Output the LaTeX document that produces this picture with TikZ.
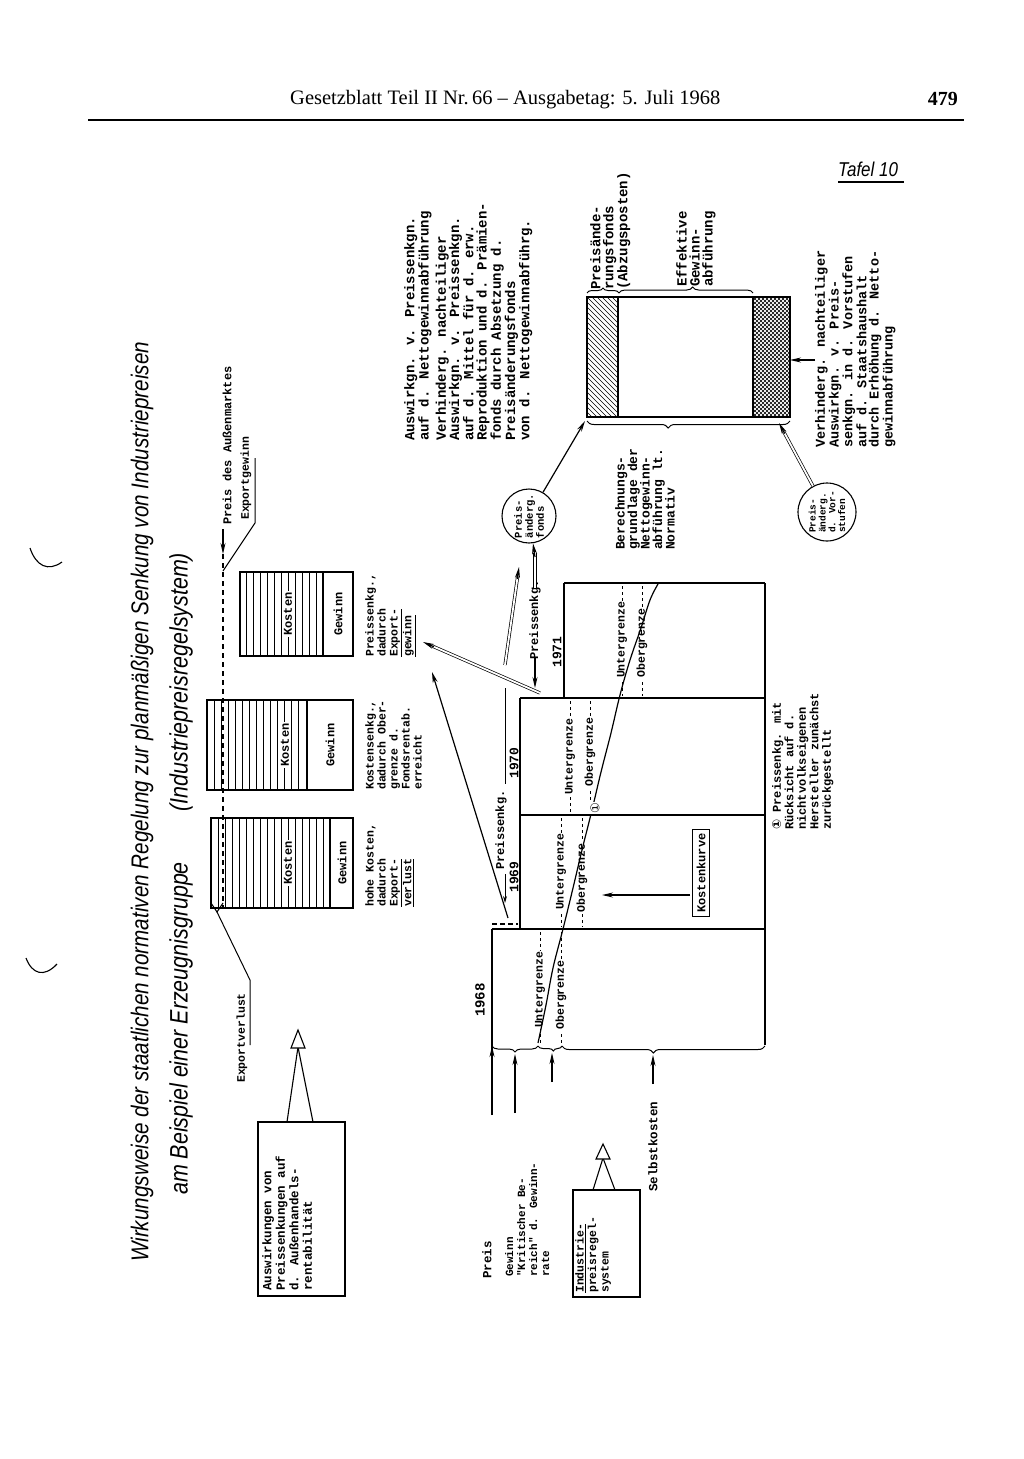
\documentclass[tikz,border=0pt]{standalone}
\usepackage{graphicx}
\usepackage{fontspec}
\setmainfont{Liberation Serif}
\newfontfamily\twfam{Liberation Mono}
\newfontfamily\handfam{Liberation Sans}[FakeStretch=0.85]
\newfontfamily\symfam{DejaVu Sans}
\usetikzlibrary{arrows.meta,decorations.pathreplacing,calc}
\newcommand\twf[2]{\twfam\bfseries\fontsize{#1}{#2}\selectfont}
\begin{document}
\begin{tikzpicture}[x=1pt,y=-1pt,
  ln/.style={line width=1.1pt},
  rt/.style={rotate=90,inner sep=0pt,align=left,anchor=north west},
  rc/.style={rotate=90,inner sep=0pt,align=center},
  arr/.style={line width=1.2pt,-{Stealth[length=11pt,width=5pt]}},
  dbl/.style={double,double distance=1.8pt,line width=0.7pt},
  brc/.style={decorate,decoration={brace,amplitude=6pt},line width=1pt},
  dsh/.style={line width=1pt,dash pattern=on 3pt off 3pt},
  lbl/.style={rc,fill=white,inner sep=1.5pt},
]
\useasboundingbox (0,0) rectangle (1024,1459);
\fill[white] (0,0) rectangle (1024,1459);

% scan marks
\draw[line width=1.1pt] (30,548) .. controls (36,566) and (48,572) .. (62,562);
\draw[line width=1.1pt] (26,958) .. controls (32,974) and (44,978) .. (57,964);

% header
\node[anchor=base west,inner sep=0,font=\fontsize{20.5}{22}\selectfont] (hdr) at (290,104) {Gesetzblatt Teil II Nr.\,66 -- Ausgabetag: 5. Juli 1968};
\node[anchor=base east,inner sep=0,font=\bfseries\fontsize{20}{22}\selectfont] (pg) at (958,105) {479};
\draw[line width=1.8pt] (88,120) -- (964,120);
\node[anchor=base west,inner sep=0,font=\handfam\itshape\fontsize{20}{22}\selectfont] (tafel) at (838,176) {Tafel 10};
\draw[line width=1.2pt] (838,182) -- (904,182);

% title
\node[rotate=90,anchor=west,inner sep=0] (title1) at (142,1262) {\resizebox{920pt}{!}{\handfam\itshape Wirkungsweise der staatlichen normativen Regelung zur planmäßigen Senkung von Industriepreisen}};
\node[rotate=90,anchor=west,inner sep=0] (title2) at (181,1195) {\resizebox{642pt}{!}{\handfam\itshape am Beispiel einer Erzeugnisgruppe\quad\quad (Industriepreisregelsystem)}};

% ---------- bars ----------
% bar 1
\foreach \x in {218,225,...,326} \draw[line width=0.8pt] (\x,818) -- (\x,908);
\draw[ln] (211,818) rectangle (353,908);
\draw[ln] (330,818) -- (330,908);
\node[lbl,font=\twf{12}{12}] (k1) at (288,863) {Kosten};
\node[rc,font=\twf{12}{12}] (g1) at (342,863) {Gewinn};
% bar 2
\foreach \x in {214,221,...,303} \draw[line width=0.8pt] (\x,700) -- (\x,790);
\draw[ln] (207,700) rectangle (353,790);
\draw[ln] (307,700) -- (307,790);
\node[lbl,font=\twf{12}{12}] (k2) at (285,745) {Kosten};
\node[rc,font=\twf{12}{12}] (g2) at (330,745) {Gewinn};
% bar 3
\foreach \x in {246,253,...,320} \draw[line width=0.8pt] (\x,572) -- (\x,656);
\draw[ln] (240,572) rectangle (353,656);
\draw[ln] (323,572) -- (323,656);
\node[lbl,font=\twf{12}{12}] (k3) at (288,614) {Kosten};
\node[rc,font=\twf{12}{12}] (g3) at (338,614) {Gewinn};

% price of foreign market
\node[rc,anchor=west,font=\twf{12}{12}] (pam) at (227,525) {Preis des Außenmarktes};
\coordinate (pamA) at (223,529);
\coordinate (pamB) at (223,554);
\coordinate (pamC) at (223,908);
\draw[arr] (pamA) -- (pamB);
\draw[dsh,line width=1.2pt,dash pattern=on 5pt off 4pt] (pamB) -- (pamC);

% Exportgewinn / Exportverlust
\node[rc,anchor=west,font=\twf{11.5}{12}] (eg) at (246,520) {Exportgewinn};
\coordinate (egA) at (223,571);
\coordinate (egB) at (255,523);
\coordinate (egC) at (255,458);
\draw[line width=1pt] (egA) -- (egB) -- (egC);
\node[rc,anchor=west,font=\twf{11.5}{12}] (ev) at (242,1083) {Exportverlust};
\coordinate (evA) at (217,912);
\coordinate (evB) at (250,980);
\coordinate (evC) at (250,1045);
\draw[line width=1pt] (211,903) -- (evA) -- (223,903);
\draw[line width=1pt] (evA) -- (evB) -- (evC);

% texts under bars
\node[rt,font=\twf{11.5}{12}] (tb1) at (365,907) {hohe Kosten,\\dadurch\\\underline{Export-}\\\underline{verlust}};
\node[rt,font=\twf{11.5}{12}] (tb2) at (365,790) {Kostensenkg.,\\dadurch Ober-\\grenze d.\\Fondsrentab.\\erreicht};
\node[rt,font=\twf{11.5}{12}] (tb3) at (365,657) {Preissenkg.,\\dadurch\\\underline{Export-}\\\underline{gewinn}};

% lower left boxes
\node[draw,ln,rotate=90,minimum width=174pt,minimum height=87pt,inner sep=0] (bx1) at (301.5,1209) {};
\node[rt,font=\twf{12.5}{13.5}] (bx1t) at (262,1291) {Auswirkungen von\\Preissenkungen auf\\d. Außenhandels-\\rentabilität};
\coordinate (tri1) at (298,1047);
\draw[ln] (287,1122) -- (tri1) -- (313,1122);
\draw[ln,fill=white] (298,1030) -- (291,1048) -- (305,1048) -- cycle;

\node[draw,ln,rotate=90,minimum width=107pt,minimum height=67pt,inner sep=0] (bx2) at (606.5,1243.5) {};
\node[rt,font=\twf{11.5}{12.5}] (bx2t) at (575,1293) {\underline{Industrie-}\\preisregel-\\system};
\coordinate (tri2) at (603,1158);
\draw[ln] (593,1190) -- (tri2) -- (615,1190);
\draw[ln,fill=white] (603,1144) -- (596,1159) -- (610,1159) -- cycle;

% ---------- chart ----------
\draw[ln] (492,929) -- (765,929);
\draw[ln] (492,929) -- (492,1115);
\draw[ln] (520,698) -- (520,929);
\draw[ln] (520,815) -- (765,815);
\draw[ln] (520,698) -- (765,698);
\draw[ln] (564,583) -- (564,698);
\draw[ln] (564,583) -- (765,583);
\draw[ln] (765,583) -- (765,1045);
\draw[dsh,line width=1.1pt,dash pattern=on 5pt off 3pt] (492,924) -- (518,924);
% limits
\draw[dsh] (540,932) -- (540,1043);
\draw[dsh] (561,932) -- (561,1043);
\node[lbl,font=\twf{11.5}{12}] (u68) at (540,990) {Untergrenze};
\node[lbl,font=\twf{11.5}{12}] (o68) at (561,995) {Obergrenze};
\draw[dsh] (561,818) -- (561,927);
\draw[dsh] (582,818) -- (582,927);
\node[lbl,font=\twf{11.5}{12}] (u69) at (561,872) {Untergrenze};
\node[lbl,font=\twf{11.5}{12}] (o69) at (582,878) {Obergrenze};
\draw[dsh] (570,701) -- (570,813);
\draw[dsh] (590,701) -- (590,813);
\node[lbl,font=\twf{11.5}{12}] (u70) at (570,757) {Untergrenze};
\node[lbl,font=\twf{11.5}{12}] (o70) at (590,752) {Obergrenze};
\draw[dsh] (622,586) -- (622,696);
\draw[dsh] (642,586) -- (642,696);
\node[lbl,font=\twf{11.5}{12}] (u71) at (622,640) {Untergrenze};
\node[lbl,font=\twf{11.5}{12}] (o71) at (642,643) {Obergrenze};
% cost curve
\draw[line width=1.2pt] plot[smooth,tension=0.6] coordinates {(538,1043) (546,1005) (553,968) (563,929) (573,888) (582,850) (592,810) (601,772) (611,733) (620,695) (630,660) (641,628) (650,600) (658,584)};
\node[rc,font=\symfam\fontsize{12}{12}\selectfont,fill=white,inner sep=0.5pt] (mk) at (595,808) {①};
\node[draw,ln,rc,inner sep=4pt,font=\twf{12}{12}] (kk) at (701,873) {Kostenkurve};
\coordinate (kkA) at (690,895);
\coordinate (kkB) at (602,895);
\draw[arr] (kkA) -- (kkB);
% years
\node[rc,font=\twf{14}{14}] (y68) at (480,1000) {1968};
\node[rc,font=\twf{13}{13}] (y69) at (514,877) {1969};
\node[rc,font=\twf{13}{13}] (y70) at (514,763) {1970};
\node[rc,font=\twf{13}{13}] (y71) at (557,652) {1971};
% Preissenkg. 1969
\node[rc,font=\twf{12}{12}] (ps1) at (501,830) {Preissenkg.};
\draw[line width=1pt] (505,688) -- (505,784);
\draw[line width=1pt,-{Stealth[length=7pt,width=4pt]}] (505,874) -- (505,903);
% Preissenkg. 1971
\node[rc,font=\twf{12}{12}] (ps2) at (535,620) {Preissenkg.};
\coordinate (ps2a) at (535,657);
\coordinate (ps2b) at (535,688);
\draw[arr] (ps2a) -- (ps2b);
% bottom braces and arrows
\draw[brc] (538,1046) -- (492,1046);
\draw[brc,decoration={brace,amplitude=5pt,aspect=0.36}] (562,1046) -- (538,1046);
\draw[brc,decoration={brace,amplitude=7pt,aspect=0.55}] (765,1046) -- (562,1046);
\coordinate (preisA) at (492,1115);
\coordinate (preisB) at (492,1046);
\draw[arr] (preisA) -- (preisB);
\draw[arr] (515,1113) -- (515,1054);
\draw[arr] (552,1082) -- (552,1053);
\draw[arr] (653,1084) -- (653,1055);
\node[rt,font=\twf{12.5}{13}] (preis) at (482,1279) {Preis};
\node[rt,font=\twf{11}{12}] (gew) at (505,1277) {Gewinn\\"Kritischer Be-\\reich" d. Gewinn-\\rate};
\node[rc,anchor=west,font=\twf{12.5}{12}] (sk) at (653,1192) {Selbstkosten};

% footnote
\node[rt,font=\twf{12}{12.5}] (fn) at (772,830) {{\symfam ①} Preissenkg. mit\\Rücksicht auf d.\\nichtvolkseigenen\\Hersteller zunächst\\zurückgestellt};

% long arrows to the left
\coordinate (la1) at (508,918);
\coordinate (la2) at (432,672);
\draw[arr] (la1) -- (la2);
\coordinate (lb1) at (540,693);
\coordinate (lb2) at (423,642);
\draw[dbl] (lb1) -- ($(lb2)!9pt!(lb1)$);
\draw[arr] ($(lb2)!12pt!(lb1)$) -- (lb2);

% ---------- right part ----------
\node[draw,circle,ln,minimum size=54pt,inner sep=0] (pf) at (529,516) {};
\node[rc,font=\twf{10.5}{11},align=left] (pft) at (529,516) {Preis-\\änderg.\\fonds};
\coordinate (lc1) at (505,665);
\coordinate (lc2) at (519,567);
\draw[dbl] (lc1) -- ($(lc2)!9pt!(lc1)$);
\draw[arr] ($(lc2)!12pt!(lc1)$) -- (lc2);
\coordinate (ps2c) at (535,588);
\draw[dbl] (ps2c) -- (535,553);
\draw[arr] (535,557) -- (pf);

% big box
\begin{scope}
\clip (587,297) rectangle (618,417);
\foreach \a in {467,472,...,620} \draw[line width=0.6pt] (\a,297) -- (\a+120,417);
\end{scope}
\begin{scope}
\clip (753,297) rectangle (790,417);
\foreach \a in {633,637,...,792} \draw[line width=0.55pt] (\a,297) -- (\a+120,417);
\foreach \a in {753,757,...,912} \draw[line width=0.55pt] (\a,297) -- (\a-120,417);
\end{scope}
\draw[ln] (587,297) rectangle (790,417);
\draw[ln] (618,297) -- (618,417);
\draw[ln] (753,297) -- (753,417);
\coordinate (bbc) at (585,421);
\draw[brc,decoration={brace,amplitude=5pt}] (587,293) -- (619,293);
\draw[brc,decoration={brace,amplitude=6pt,aspect=0.55}] (619,293) -- (753,293);
\draw[brc,decoration={brace,amplitude=7pt,aspect=0.6}] (790,421) -- (587,421);
\draw[arr] (pf) -- (bbc);

\node[rt,font=\twf{14}{13}] (paf) at (590,290) {Preisände-\\rungsfonds\\(Abzugsposten)};
\node[rt,font=\twf{14}{13}] (eff) at (676,287) {Effektive\\Gewinn-\\abführung};
\node[rt,font=\twf{13}{12.5}] (ber) at (615,550) {Berechnungs-\\grundlage der\\Nettogewinn-\\abführung lt.\\Normativ};
\node[rt,font=\twf{14}{13.2}] (auw) at (404,441) {Auswirkgn. v. Preissenkgn.\\auf d. Nettogewinnabführung\\[4pt]Verhinderg. nachteiliger\\Auswirkgn. v. Preissenkgn.\\auf d. Mittel für d. erw.\\Reproduktion und d. Prämien-\\fonds durch Absetzung d.\\Preisänderungsfonds\\von d. Nettogewinnabführg.};
\node[rt,font=\twf{13.5}{12.4}] (vhd) at (815,448) {Verhinderg. nachteiliger\\Auswirkgn. v. Preis-\\senkgn. in d. Vorstufen\\auf d. Staatshaushalt\\durch Erhöhung d. Netto-\\gewinnabführung};
\coordinate (vhdA) at (815,360);
\coordinate (vhdB) at (790,360);
\draw[arr] (vhdA) -- (vhdB);

\node[draw,circle,ln,minimum size=58pt,inner sep=0] (pv) at (827,512) {};
\node[rc,font=\twf{9.5}{9.8},align=left] (pvt) at (827,512) {Preis-\\änderg.\\d. Vor-\\stufen};
\coordinate (pvB) at (779,423);
\draw[dbl] (pv) -- ($(pvB)!9pt!(pv)$);
\draw[arr] ($(pvB)!12pt!(pv)$) -- (pvB);
\end{tikzpicture}
\end{document}
